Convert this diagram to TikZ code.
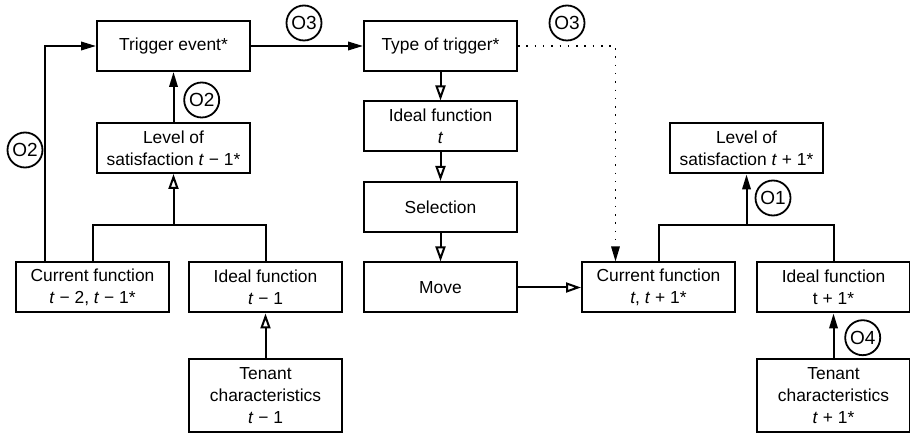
\documentclass[tikz,border=0pt]{standalone}
\usepackage{fontspec}
\setmainfont{Liberation Sans}
\usepackage{tikz}
\usetikzlibrary{shapes.geometric, arrows.meta, positioning}

\begin{document}
\begin{tikzpicture}[x=1pt, y=1pt, node distance=28.5pt, every node/.style={font=\fontsize{17.4}{21.7}\selectfont}, align=center]
      % Styles
      \tikzset{
        block/.style={rectangle, draw, line width=2pt, minimum width=153pt, minimum height=50pt, inner sep=2pt, text centered},
        tall/.style={block, minimum height=72pt},
        tag/.style={circle, draw, line width=1.8pt, minimum size=35pt, inner sep=0pt, font=\fontsize{19}{22}\selectfont},
        arrow/.style={-{Triangle[length=15pt, width=8.5pt]}, line width=2pt},
        hollow/.style={-{Triangle[open, length=15pt, width=10pt]}, line width=2pt},
        link/.style={line width=2pt},
        hint/.style={-{Triangle[length=15pt, width=8.5pt]}, line width=1.5pt, dash pattern=on 1.5pt off 6.8pt}
      }
      \useasboundingbox (0,0) rectangle (910,-435);

      % Nodes
      \node (trig) [block] at (173.5,-46) {Trigger event*};
      \node (lev1) [block, below=50pt of trig] {Level of\\satisfaction \textit{t} − 1*};
      \node (type) [block, right=112pt of trig] {Type of trigger*};
      \node (ideal) [block, below=of type] {Ideal function\\\textit{t}};
      \node (sel) [block, below=of ideal] {Selection};
      \node (move) [block, below=of sel] {Move};

      \node (cur1) [block] at (92.5,-287.5) {Current function\\\textit{t} − 2, \textit{t} − 1*};
      \node (idl1) [block, right=18pt of cur1] {Ideal function\\\textit{t} − 1};
      \node (ten1) [tall, below=45pt of idl1] {Tenant\\characteristics\\\textit{t} − 1};

      \node (cur2) [block, right=63pt of move] {Current function\\\textit{t}, \textit{t} + 1*};
      \node (idl2) [block, right=20pt of cur2] {Ideal function\\t + 1*};
      \node (ten2) [tall, below=45pt of idl2] {Tenant\\characteristics\\\textit{t} + 1*};
      \node (lev2) [block] at (746.5,-148.5) {Level of\\satisfaction \textit{t} + 1*};

      \node (o2a) [tag] at (25,-150) {O2};
      \node (o2b) [tag] at (201.7,-100) {O2};
      \node (o3a) [tag] at (304,-23) {O3};
      \node (o3b) [tag] at (567,-23) {O3};
      \node (o1) [tag] at (773,-198) {O1};
      \node (o4) [tag] at (862.7,-337.7) {O4};

      \coordinate (jl) at (173.5,-225);
      \coordinate (jr) at (746.5,-225);

      % Arrows
      \draw [arrow] (lev1) -- (trig);
      \draw [arrow] (trig) -- (type);
      \draw [arrow] ([xshift=-47.5pt]cur1.north) |- (trig.west);
      \draw [link] (cur1.north) |- (jl) -| (idl1.north);
      \draw [hollow] (jl) -- (lev1);
      \draw [hollow] (ten1) -- (idl1);

      \draw [hollow] (type) -- (ideal);
      \draw [hollow] (ideal) -- (sel);
      \draw [hollow] (sel) -- (move);
      \draw [hollow] (move) -- (cur2);
      \draw [hint] (type.east) -| ([xshift=-43pt]cur2.north);

      \draw [link] (cur2.north) |- (jr) -| (idl2.north);
      \draw [arrow] (jr) -- (lev2);
      \draw [arrow] (ten2) -- (idl2);
    \end{tikzpicture}
\end{document}
